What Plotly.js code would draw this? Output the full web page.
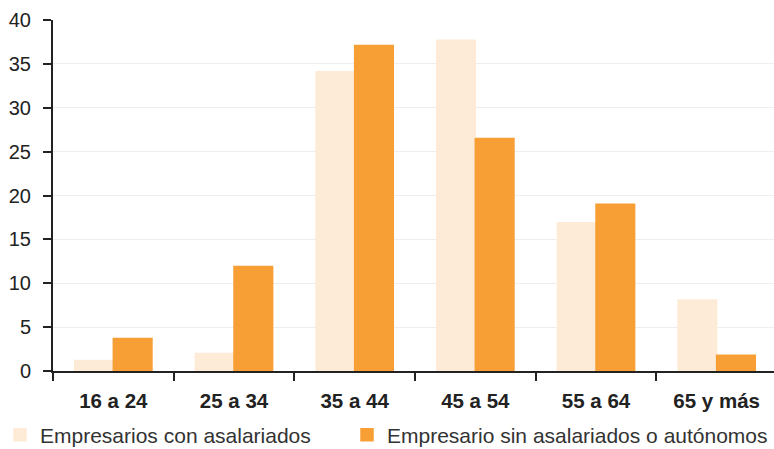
<!DOCTYPE html>
<html>
<head>
<meta charset="utf-8">
<script src="https://cdn.plot.ly/plotly-3.0.1.min.js"></script>
<style>
html,body{margin:0;padding:0;overflow:hidden;background:#fff;}
#chart{width:777px;height:449px;}
</style>
</head>
<body>
<div id="chart"></div>
<script>
const categories = ["16 a 24", "25 a 34", "35 a 44", "45 a 54", "55 a 64", "65 y más"];
const conAsalariados = [1.2, 2.0, 34.1, 37.7, 16.9, 8.1];
const sinAsalariados = [3.7, 11.9, 37.1, 26.5, 19.0, 1.8];
const seriesNames = ["Empresarios con asalariados", "Empresario sin asalariados o autónomos"];
const yTicks = [0, 5, 10, 15, 20, 25, 30, 35, 40];

const traces = [
  {type: "bar", x: categories, y: conAsalariados, name: seriesNames[0], legend: "legend",
   marker: {color: "#FDEBD7", line: {color: "#FDEBD7", width: 1.5}}},
  {type: "bar", x: categories, y: sinAsalariados, name: seriesNames[1], legend: "legend2",
   marker: {color: "#F79F35", line: {color: "#F79F35", width: 1.5}}}
];

const FONT = "Liberation Sans, Arial, Helvetica, sans-serif";
const legendFont = {family: FONT, size: 21, color: "#333"};

const layout = {
  width: 777, height: 449,
  margin: {l: 53, r: 0, t: 20, b: 78},
  paper_bgcolor: "#fff", plot_bgcolor: "#fff",
  font: {family: FONT, size: 20, color: "#222"},
  barmode: "group", bargap: 0.36, bargroupgap: 0,
  showlegend: true,
  legend: {orientation: "h", x: 0, xref: "container", xanchor: "left",
           y: 0.031, yref: "container", yanchor: "middle",
           font: legendFont, itemclick: false},
  legend2: {orientation: "h", x: 347 / 777, xref: "container", xanchor: "left",
            y: 0.031, yref: "container", yanchor: "middle",
            font: legendFont, itemclick: false},
  xaxis: {type: "category", showline: true, linecolor: "#222", linewidth: 2,
          ticks: "outside", tickson: "boundaries", ticklen: 8, tickcolor: "#222", tickwidth: 2,
          tickfont: {size: 20.5, color: "#222", family: FONT, weight: "bold"},
          ticklabelstandoff: 10,
          showgrid: false, zeroline: false},
  yaxis: {range: [0, 40], tickvals: yTicks, showline: true, linecolor: "#222", linewidth: 2,
          ticks: "outside", ticklen: 8, tickcolor: "#222", tickwidth: 2,
          ticklabelstandoff: 8,
          gridcolor: "#EEEEEE", gridwidth: 1, zeroline: false,
          tickfont: {size: 20, color: "#222", family: FONT}}
};

Plotly.newPlot("chart", traces, layout, {displayModeBar: false, staticPlot: true});
</script>
</body>
</html>
